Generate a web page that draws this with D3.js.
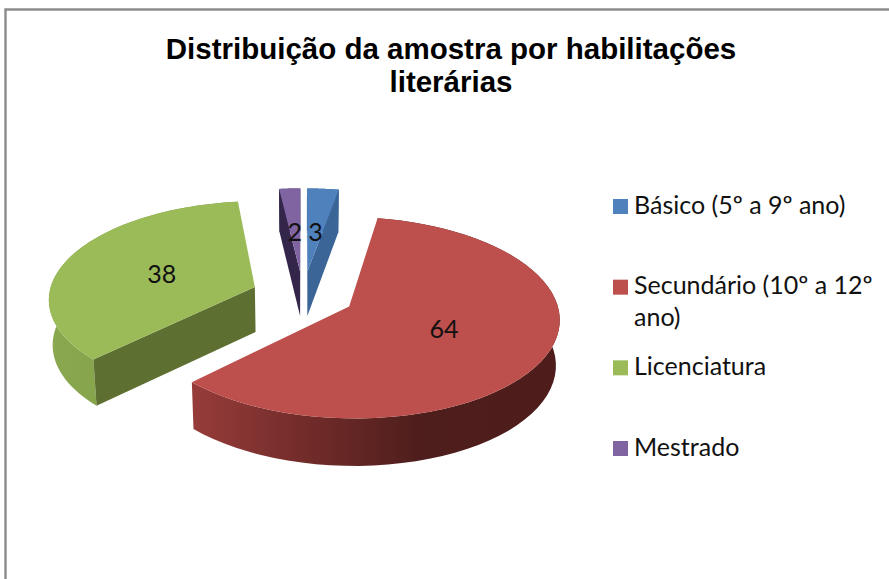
<!DOCTYPE html>
<html><head><meta charset="utf-8">
<script src="https://cdn.jsdelivr.net/npm/d3@7"></script>
<style>html,body{margin:0;padding:0;background:#fff}svg{display:block}</style>
</head><body><svg id="c" width="889" height="579"></svg>
<script>
const titleLines = ["Distribuição da amostra por habilitações", "literárias"];
const categories = ["Básico (5º a 9º ano)", "Secundário (10º a 12º ano)", "Licenciatura", "Mestrado"];
const values = [3, 64, 38, 2];
const legendLines = [["Básico (5º a 9º ano)"], ["Secundário (10º a 12º", "ano)"], ["Licenciatura"], ["Mestrado"]];
const topColors = ["#4f81bd", "#bd4f4c", "#9bbb59", "#8064a2"];
const cutColors = ["#3a6596", "#7a2f2d", "#5e7031", "#33264a"];
const wallStops = [
  [["0", "#3a6596"], ["1", "#3a6596"]],
  [["0", "#963c3a"], ["0.3", "#732c2a"], ["0.62", "#4e1e1c"], ["1", "#4d1c1b"]],
  [["0", "#8aa84f"], ["1", "#7c9a45"]],
  [["0", "#33264a"], ["1", "#33264a"]]
];

const W = 889, H = 579;
const cx = 303, cy = 295, Rx = 206, Ry = 97, persp = 0.11, explode = 0.25;
const depth = 45, botX = 0.985, botY = 1.02, labelR = 0.46, labelStretch = 1.05;

const svg = d3.select("#c");
const defs = svg.append("defs");
const font = "Lato, Carlito, 'Open Sans', sans-serif";

// frame
svg.append("path").attr("d", `M5.5 ${H} V9.5 H${W}`).attr("fill", "none")
  .attr("stroke", "#8c8c8c").attr("stroke-width", 2.4);

// projection of a point of the unit pie plane
function project(u, v, low) {
  const w = 1 - persp * v;
  return low
    ? [cx + botX * Rx * u / w, cy + depth + botY * Ry * v / w]
    : [cx + Rx * u / w, cy + Ry * v / w];
}
const pie = d3.pie().sort(null).value(d => d).startAngle(0).endAngle(2 * Math.PI);
const arcs = pie(values);
const line = d3.line();
const rim = (a, r, ox, oy) => [ox + r * Math.sin(a), oy - r * Math.cos(a)];
const area2 = p => d3.polygonArea(p);

const order = [3, 0, 2, 1];
order.forEach(i => {
  const d = arcs[i];
  const mid = (d.startAngle + d.endAngle) / 2;
  const ox = explode * Math.sin(mid), oy = -explode * Math.cos(mid);
  const angles = d3.range(0, 61).map(k => d.startAngle + (d.endAngle - d.startAngle) * k / 60);
  const ring = angles.map(a => rim(a, 1, ox, oy));
  const topRing = ring.map(p => project(p[0], p[1], false));
  const lowRing = ring.map(p => project(p[0], p[1], true));
  const g = svg.append("g");

  // outer wall
  const xs = topRing.concat(lowRing).map(p => p[0]);
  const gid = "wall" + i;
  const grad = defs.append("linearGradient").attr("id", gid)
    .attr("gradientUnits", "userSpaceOnUse")
    .attr("x1", d3.min(xs)).attr("x2", d3.max(xs)).attr("y1", 0).attr("y2", 0);
  wallStops[i].forEach(s => grad.append("stop").attr("offset", s[0]).attr("stop-color", s[1]));
  g.append("path").attr("d", line(topRing.concat(lowRing.slice().reverse())) + "Z").attr("fill", `url(#${gid})`);

  // cut faces, drawn only if they face the viewer
  const apexT = project(ox, oy, false), apexB = project(ox, oy, true);
  [[0, 1], [60, -1]].forEach(([idx, sign]) => {
    const quad = [apexT, topRing[idx], lowRing[idx], apexB];
    if (area2(quad) * sign > 0) {
      g.append("path").attr("d", line(quad) + "Z").attr("fill", cutColors[i]);
    }
  });

  // top face
  g.append("path").attr("d", line([apexT].concat(topRing)) + "Z").attr("fill", topColors[i]);
});

// value labels
arcs.forEach(d => {
  const mid = (d.startAngle + d.endAngle) / 2;
  const r = explode + labelR;
  const p = project(labelStretch * r * Math.sin(mid), -r * Math.cos(mid), false);
  svg.append("text").attr("x", p[0]).attr("y", p[1] + 1).attr("dy", "0.36em")
    .attr("text-anchor", "middle").attr("font-family", font).attr("font-size", 25)
    .attr("fill", "#111").text(d.data);
});

// title
const titleY = d3.scaleLinear().domain([0, 1]).range([59, 92]);
titleLines.forEach((t, i) => {
  svg.append("text").attr("x", 451).attr("y", titleY(i)).attr("text-anchor", "middle")
    .attr("font-family", "'Liberation Sans', Arial, sans-serif").attr("font-weight", 700)
    .attr("font-size", 29.5).attr("fill", "#000").text(t);
});

// legend
const legendY = d3.scalePoint().domain(d3.range(categories.length)).range([206.5, 448.5]);
categories.forEach((c, i) => {
  const y = legendY(i);
  svg.append("rect").attr("x", 613).attr("y", y - 7.5).attr("width", 15).attr("height", 15)
    .attr("fill", topColors[i]);
  legendLines[i].forEach((l, j) => {
    svg.append("text").attr("x", 634).attr("y", y + 7 + j * 32)
      .attr("font-family", font).attr("font-size", 25).attr("fill", "#111").text(l);
  });
});
</script></body></html>
